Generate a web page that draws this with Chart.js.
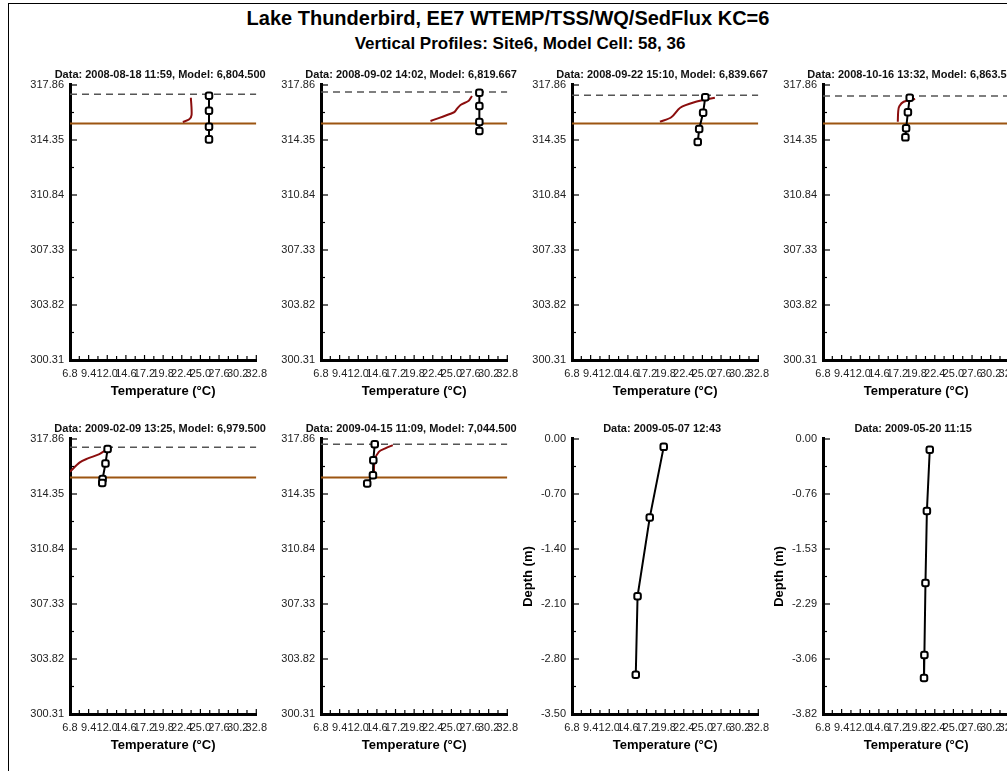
<!DOCTYPE html>
<html>
<head>
<meta charset="utf-8">
<title>Lake Thunderbird vertical profiles</title>
<script src="https://cdn.jsdelivr.net/npm/chart.js@4.4.1/dist/chart.umd.min.js"></script>
<style>
  body { margin: 0; background: #fff; overflow: hidden; font-family: "Liberation Sans", Arial, sans-serif; }
  #page { position: relative; width: 1007px; height: 771px; overflow: hidden; }
  #frame { position: absolute; left: 8px; top: 3px; width: 1100px; height: 900px; border-left: 1px solid #000; border-top: 1px solid #000; }
  .head { position: absolute; left: 0; text-align: center; font-weight: bold; color: #000; }
  #title { top: 7px; width: 1016px; font-size: 20px; line-height: 22px; }
  #subtitle { top: 34px; width: 1040px; font-size: 17px; line-height: 19px; }
  canvas { position: absolute; }
</style>
</head>
<body>
<div id="page">
  <div id="frame"></div>
  <div class="head" id="title">Lake Thunderbird, EE7 WTEMP/TSS/WQ/SedFlux KC=6</div>
  <div class="head" id="subtitle">Vertical Profiles: Site6, Model Cell: 58, 36</div>
</div>
<script>
// tick values
const tempTicks = [6.8, 9.4, 12.0, 14.6, 17.2, 19.8, 22.4, 25.0, 27.6, 30.2, 32.8];
const elevTicks = [300.31, 303.82, 307.33, 310.84, 314.35, 317.86];
const depthTicksA = [-3.50, -2.80, -2.10, -1.40, -0.70, 0.00];
const depthTicksB = [-3.82, -3.056, -2.292, -1.528, -0.764, 0.00];

const panelTitles = [
    'Data: 2008-08-18 11:59, Model: 6,804.500',
    'Data: 2008-09-02 14:02, Model: 6,819.667',
    'Data: 2008-09-22 15:10, Model: 6,839.667',
    'Data: 2008-10-16 13:32, Model: 6,863.500',
    'Data: 2009-02-09 13:25, Model: 6,979.500',
    'Data: 2009-04-15 11:09, Model: 7,044.500',
    'Data: 2009-05-07 12:43',
    'Data: 2009-05-20 11:15'
];

// water surface (dashed) per panel and layer bottom (brown)
const waterSurface = [317.27, 317.41, 317.20, 317.16, 317.33, 317.53];
const layerBottom = 315.40;

// observed profiles (temperature, elevation or depth)
const obsTemp1 = [26.2, 26.2, 26.2, 26.2];
const obsElev1 = [317.18, 316.22, 315.20, 314.39];
const obsTemp2 = [28.9, 28.9, 28.9, 28.9];
const obsElev2 = [317.37, 316.52, 315.50, 314.92];
const obsTemp3 = [25.4, 25.1, 24.55, 24.35];
const obsElev3 = [317.08, 316.09, 315.05, 314.22];
const obsTemp4 = [18.9, 18.65, 18.4, 18.3];
const obsElev4 = [317.05, 316.12, 315.10, 314.52];
const obsTemp5 = [12.05, 11.75, 11.35, 11.3];
const obsElev5 = [317.22, 316.30, 315.31, 315.05];
const obsTemp6 = [14.3, 14.1, 14.05, 13.25];
const obsElev6 = [317.53, 316.50, 315.55, 315.02];
const obsTemp7 = [19.6, 17.65, 15.95, 15.7];
const obsDepth7 = [-0.10, -1.00, -2.00, -3.00];
const obsTemp8 = [21.7, 21.3, 21.1, 20.95, 20.9];
const obsDepth8 = [-0.15, -1.00, -2.00, -3.00, -3.32];

// model profiles
const modelTemp1 = [23.67, 23.77, 23.45, 22.55];
const modelElev1 = [317.05, 315.95, 315.67, 315.50];
const modelTemp2 = [22.08, 25.37, 25.73, 26.27, 27.42, 27.87];
const modelElev2 = [315.56, 316.12, 316.31, 316.58, 316.86, 317.16];
const modelTemp3 = [19.07, 20.66, 21.9, 23.87, 26.74];
const modelElev3 = [315.52, 315.80, 316.41, 316.76, 317.05];
const modelTemp4 = [17.24, 17.3, 17.45, 18.06, 19.66];
const modelElev4 = [315.52, 316.2, 316.5, 316.79, 316.97];
const modelTemp5 = [6.8, 8.17, 9.3, 10.9, 12.04];
const modelElev5 = [315.77, 316.37, 316.62, 316.90, 317.22];
const modelTemp6 = [14.19, 14.28, 14.87, 15.78, 16.82];
const modelElev6 = [315.60, 316.50, 317.04, 317.26, 317.47];

Chart.defaults.font.family = '"Liberation Sans", Arial, sans-serif';
Chart.defaults.color = '#222';

// small tick marks drawn inside the plot, like the original
const innerTicks = {
    id: 'innerTicks',
    afterDraw(chart, args, opts) {
        const {ctx, chartArea, scales: {x, y}} = chart;
        ctx.save();
        ctx.strokeStyle = '#000';
        ctx.lineWidth = 1.2;
        const marks = (vals, major, minor) => {
            const out = [];
            vals.forEach((v, i) => {
                out.push([v, major]);
                if (i < vals.length - 1) out.push([(v + vals[i + 1]) / 2, minor]);
            });
            return out;
        };
        marks(opts.xTicks, 5, 4).forEach(([v, len]) => {
            const px = x.getPixelForValue(v);
            ctx.beginPath();
            ctx.moveTo(px, chartArea.bottom);
            ctx.lineTo(px, chartArea.bottom - len);
            ctx.stroke();
        });
        marks(opts.yTicks, 7, 4).forEach(([v, len]) => {
            const py = y.getPixelForValue(v);
            ctx.beginPath();
            ctx.moveTo(chartArea.left, py);
            ctx.lineTo(chartArea.left + len, py);
            ctx.stroke();
        });
        ctx.restore();
    }
};

// let the panel title run a little wider than the plot so it isn't squeezed
const widenTitle = {
    id: 'widenTitle',
    afterLayout(chart) {
        const t = chart.titleBlock;
        if (!t) return;
        t.left = chart.chartArea.left - 16;
        t.right = chart.chartArea.right + 10;
        t.width = t.right - t.left;
    }
};

const panels = [
    {obsT: obsTemp1, obsY: obsElev1, modT: modelTemp1, modY: modelElev1, yTicks: elevTicks},
    {obsT: obsTemp2, obsY: obsElev2, modT: modelTemp2, modY: modelElev2, yTicks: elevTicks},
    {obsT: obsTemp3, obsY: obsElev3, modT: modelTemp3, modY: modelElev3, yTicks: elevTicks},
    {obsT: obsTemp4, obsY: obsElev4, modT: modelTemp4, modY: modelElev4, yTicks: elevTicks},
    {obsT: obsTemp5, obsY: obsElev5, modT: modelTemp5, modY: modelElev5, yTicks: elevTicks},
    {obsT: obsTemp6, obsY: obsElev6, modT: modelTemp6, modY: modelElev6, yTicks: elevTicks},
    {obsT: obsTemp7, obsY: obsDepth7, yTicks: depthTicksA, yTitle: 'Depth (m)'},
    {obsT: obsTemp8, obsY: obsDepth8, yTicks: depthTicksB, yTitle: 'Depth (m)'}
];

const page = document.getElementById('page');

function toPoints(xs, ys) {
    return xs.map((v, k) => ({x: v, y: ys[k]}));
}

function makePanel(p, idx) {
    const col = idx % 4;
    const row = Math.floor(idx / 4);
    const axisX = 70 + col * 251;
    const chartTop = row === 0 ? 85 : 438.5;

    const canvas = document.createElement('canvas');
    canvas.width = 266;
    canvas.height = 340;
    canvas.style.left = (axisX - 62) + 'px';
    canvas.style.top = (chartTop - 20) + 'px';
    page.appendChild(canvas);

    const tMin = tempTicks[0];
    const tMax = tempTicks[tempTicks.length - 1];

    const datasets = [{
        data: toPoints(p.obsT, p.obsY),
        borderColor: '#000',
        borderWidth: 2,
        pointStyle: 'rectRounded',
        pointRadius: 3.8,
        pointBorderWidth: 2,
        pointBorderColor: '#000',
        pointBackgroundColor: '#fff'
    }];
    if (p.modT) {
        datasets.push({
            data: toPoints(p.modT, p.modY),
            borderColor: '#8b0e0e',
            borderWidth: 2,
            pointRadius: 0,
            tension: 0.3
        });
        datasets.push({
            data: [{x: tMin, y: waterSurface[idx]}, {x: tMax, y: waterSurface[idx]}],
            borderColor: '#555',
            borderWidth: 1.5,
            borderDash: [7, 5],
            pointRadius: 0
        });
        datasets.push({
            data: [{x: tMin, y: layerBottom}, {x: tMax, y: layerBottom}],
            borderColor: '#9c5511',
            borderWidth: 2,
            pointRadius: 0
        });
    }

    const yVals = p.yTicks;
    new Chart(canvas, {
        type: 'line',
        data: {datasets: datasets},
        plugins: [innerTicks, widenTitle],
        options: {
            responsive: false,
            animation: false,
            events: [],
            layout: {padding: {top: 3.4, right: 14, bottom: 0, left: 0}},
            plugins: {
                legend: {display: false},
                tooltip: {enabled: false},
                title: {
                    display: true,
                    text: panelTitles[idx],
                    fullSize: false,
                    color: '#111',
                    font: {size: 11, weight: 'bold'},
                    padding: {top: 0, bottom: 3.4}
                },
                innerTicks: {xTicks: tempTicks, yTicks: yVals}
            },
            scales: {
                x: {
                    type: 'linear',
                    min: tMin,
                    max: tMax,
                    grid: {display: false, drawTicks: false},
                    border: {display: true, color: '#000', width: 3},
                    afterBuildTicks: scale => { scale.ticks = tempTicks.map(v => ({value: v})); },
                    afterFit: scale => { scale.height = 45; },
                    ticks: {
                        autoSkip: false,
                        maxRotation: 0,
                        minRotation: 0,
                        padding: 7,
                        color: '#222',
                        font: {size: 11},
                        callback: v => v.toFixed(1)
                    },
                    title: {
                        display: true,
                        text: 'Temperature (°C)',
                        color: '#000',
                        font: {size: 13, weight: 'bold'},
                        padding: {top: 0, bottom: 5.5}
                    }
                },
                y: {
                    type: 'linear',
                    min: yVals[0],
                    max: yVals[yVals.length - 1],
                    grid: {display: false, drawTicks: false},
                    border: {display: true, color: '#000', width: 3},
                    afterBuildTicks: scale => { scale.ticks = yVals.map(v => ({value: v})); },
                    afterFit: scale => { scale.width = 62; },
                    ticks: {
                        autoSkip: false,
                        padding: 6,
                        color: '#222',
                        font: {size: 11},
                        callback: v => v.toFixed(2)
                    },
                    title: {
                        display: !!p.yTitle,
                        text: p.yTitle || '',
                        color: '#000',
                        font: {size: 13, weight: 'bold'},
                        padding: {top: 11, bottom: 0}
                    }
                }
            }
        }
    });
}

panels.forEach(makePanel);
</script>
</body>
</html>
